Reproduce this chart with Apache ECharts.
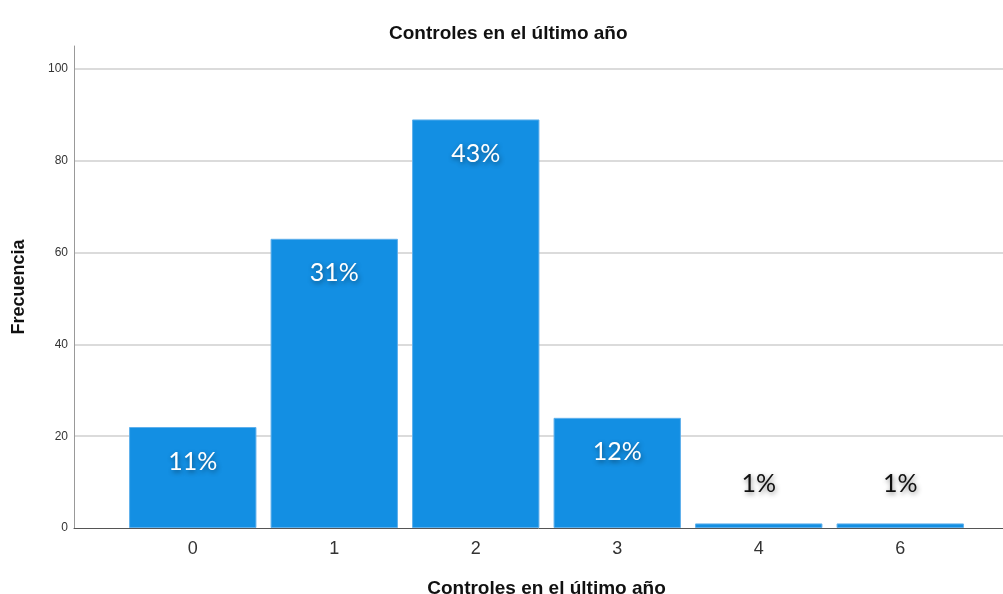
<!DOCTYPE html>
<html>
<head>
<meta charset="utf-8">
<script src="https://cdn.jsdelivr.net/npm/echarts@6/dist/echarts.min.js"></script>
<style>
  html, body { margin: 0; padding: 0; background: #fff; }
  #chart { width: 1003px; height: 594px; }
</style>
</head>
<body>
<div id="chart"></div>
<script>
// Number of check-ups in the last year
const categories = ['0', '1', '2', '3', '4', '6'];
const frequencies = [22, 63, 89, 24, 1, 1];
const percentLabels = ['11%', '31%', '43%', '12%', '1%', '1%'];
const yTicks = [0, 20, 40, 60, 80, 100];

const chartTitle = 'Controles en el último año';
const xTitle = 'Controles en el último año';
const yTitle = 'Frecuencia';

const BAR_COLOR = '#138fe3';
const SMALL_BAR = 5; // bars shorter than this get their label above
const FONT = 'Liberation Sans, Arial, sans-serif';

const chart = echarts.init(document.getElementById('chart'), null, { renderer: 'canvas' });

const barData = frequencies.map((v, i) => {
  const small = v < SMALL_BAR;
  return {
    value: v,
    label: {
      show: true,
      formatter: percentLabels[i],
      position: small ? 'top' : 'insideTop',
      distance: small ? 27 : 22,
      color: small ? '#111' : '#fff'
    }
  };
});

const yMax = 105;

chart.setOption({
  animation: false,
  title: {
    text: chartTitle,
    left: 384,
    top: 19,
    textStyle: { fontFamily: FONT, fontSize: 19, fontWeight: 'bold', color: '#111' }
  },
  grid: [
    // frame: y axis, gridlines and baseline across the full plot width
    { left: 74, right: 0, top: 46, bottom: 66, containLabel: false, outerBoundsMode: 'none' },
    // bars
    { left: 122, width: 849, top: 46, bottom: 66, containLabel: false, outerBoundsMode: 'none' }
  ],
  xAxis: [
    {
      gridIndex: 0, type: 'value', min: 0, max: 1,
      axisLine: { show: true, onZero: false, lineStyle: { color: '#555', width: 1 } },
      axisTick: { show: false }, axisLabel: { show: false }, splitLine: { show: false }
    },
    {
      gridIndex: 1, type: 'category', data: categories,
      axisLine: { show: false }, axisTick: { show: false },
      axisLabel: { fontFamily: FONT, fontSize: 18, color: '#333', margin: 12 },
      name: xTitle, nameLocation: 'middle', nameGap: 51,
      nameTextStyle: { fontFamily: FONT, fontSize: 19, fontWeight: 'bold', color: '#111' }
    }
  ],
  yAxis: [
    {
      gridIndex: 0, type: 'value', min: 0, max: yMax, interval: 20,
      axisLine: { show: true, lineStyle: { color: '#999', width: 1 } },
      axisTick: { show: false },
      axisLabel: {
        fontFamily: FONT, fontSize: 12, color: '#333', margin: 6,
        showMaxLabel: false,
        formatter: v => (yTicks.indexOf(v) >= 0 ? String(v) : '')
      },
      splitLine: { show: true, showMinLine: false, showMaxLine: false, lineStyle: { color: '#cfcfcf', width: 1.5 } },
      name: yTitle, nameLocation: 'middle', nameGap: 46, nameRotate: 90,
      nameTextStyle: { fontFamily: FONT, fontSize: 18, fontWeight: 'bold', color: '#111' }
    },
    {
      gridIndex: 1, type: 'value', min: 0, max: yMax, interval: 20, show: false
    }
  ],
  series: [
    {
      type: 'bar',
      xAxisIndex: 1,
      yAxisIndex: 1,
      data: barData,
      barCategoryGap: '10%',
      itemStyle: { color: BAR_COLOR, borderColor: '#5fb0ec', borderWidth: 1 },
      label: {
        fontFamily: 'Lato, "Open Sans", sans-serif',
        fontSize: 25,
        textShadowColor: 'rgba(0,0,0,0.45)',
        textShadowBlur: 5,
        textShadowOffsetX: 1,
        textShadowOffsetY: 2
      }
    }
  ]
});
</script>
</body>
</html>
